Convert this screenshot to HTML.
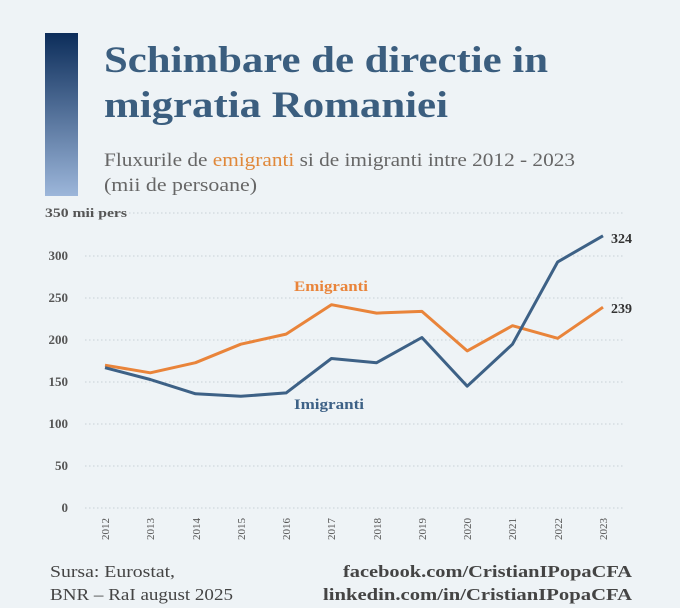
<!DOCTYPE html>
<html><head><meta charset="utf-8"><style>
body{margin:0;background:#eef3f6;}
svg{display:block}
</style></head><body>
<svg width="680" height="608" viewBox="0 0 680 608" xmlns="http://www.w3.org/2000/svg" font-family="Liberation Serif, serif">
<defs><linearGradient id="g" x1="0" y1="0" x2="0" y2="1"><stop offset="0" stop-color="#0c2d5a"/><stop offset="1" stop-color="#9cb6da"/></linearGradient></defs>
<rect width="680" height="608" fill="#eef3f6"/>
<rect x="45" y="33" width="33" height="163" fill="url(#g)"/>
<text x="104" y="72" font-size="37" font-weight="bold" fill="#3b5e7f" textLength="444" lengthAdjust="spacingAndGlyphs">Schimbare de directie in</text>
<text x="104" y="117" font-size="37" font-weight="bold" fill="#3b5e7f" textLength="344" lengthAdjust="spacingAndGlyphs">migratia Romaniei</text>
<text x="104" y="166" font-size="19" fill="#666" textLength="471" lengthAdjust="spacingAndGlyphs">Fluxurile de <tspan fill="#e0883a">emigranti</tspan> si de imigranti intre 2012 - 2023</text>
<text x="104" y="191" font-size="19" fill="#666" textLength="153" lengthAdjust="spacingAndGlyphs">(mii de persoane)</text>
<g stroke="#c8d0d6" stroke-dasharray="1.5,2.5" stroke-width="1">
<line x1="85" x2="625" y1="213" y2="213"/><line x1="85" x2="625" y1="256" y2="256"/><line x1="85" x2="625" y1="298" y2="298"/><line x1="85" x2="625" y1="340" y2="340"/><line x1="85" x2="625" y1="382" y2="382"/><line x1="85" x2="625" y1="424" y2="424"/><line x1="85" x2="625" y1="466" y2="466"/><line x1="85" x2="625" y1="508" y2="508"/>
</g>
<g font-size="13" fill="#555" text-anchor="end" font-weight="bold">
<text x="68" y="260">300</text><text x="68" y="302">250</text><text x="68" y="344">200</text><text x="68" y="386">150</text><text x="68" y="428">100</text><text x="68" y="470">50</text><text x="68" y="512">0</text>
</g>
<text x="45" y="217" font-size="13" fill="#555" font-weight="bold" textLength="82" lengthAdjust="spacingAndGlyphs">350 mii pers</text>
<g font-size="11" fill="#555">
<text transform="translate(109,540) rotate(-90)">2012</text><text transform="translate(154,540) rotate(-90)">2013</text><text transform="translate(200,540) rotate(-90)">2014</text><text transform="translate(245,540) rotate(-90)">2015</text><text transform="translate(290,540) rotate(-90)">2016</text><text transform="translate(335,540) rotate(-90)">2017</text><text transform="translate(381,540) rotate(-90)">2018</text><text transform="translate(426,540) rotate(-90)">2019</text><text transform="translate(471,540) rotate(-90)">2020</text><text transform="translate(516,540) rotate(-90)">2021</text><text transform="translate(562,540) rotate(-90)">2022</text><text transform="translate(607,540) rotate(-90)">2023</text>
</g>
<polyline fill="none" stroke="#e9843a" stroke-width="3" stroke-linejoin="round" points="105,365.2 150.3,372.8 195.5,362.7 240.8,344.2 286.1,334.1 331.4,304.7 376.6,313.1 421.9,311.4 467.2,350.9 512.5,325.7 557.7,338.3 603,307.2"/>
<polyline fill="none" stroke="#3d6186" stroke-width="3" stroke-linejoin="round" points="105,367.7 150.3,379.5 195.5,393.8 240.8,396.3 286.1,392.9 331.4,358.5 376.6,362.7 421.9,337.5 467.2,386.2 512.5,344.2 557.7,261.9 603,235.8"/>
<text x="294" y="291" font-size="15" font-weight="bold" fill="#e9843a" textLength="74" lengthAdjust="spacingAndGlyphs">Emigranti</text>
<text x="294" y="409" font-size="15" font-weight="bold" fill="#3d6186" textLength="70" lengthAdjust="spacingAndGlyphs">Imigranti</text>
<text x="611" y="243" font-size="14" font-weight="bold" fill="#333">324</text>
<text x="611" y="313" font-size="14" font-weight="bold" fill="#333">239</text>
<text x="50" y="577" font-size="17" fill="#444" textLength="125" lengthAdjust="spacingAndGlyphs">Sursa: Eurostat,</text>
<text x="50" y="600" font-size="17" fill="#444" textLength="183" lengthAdjust="spacingAndGlyphs">BNR – RaI august 2025</text>
<text x="343" y="577" font-size="17" font-weight="bold" fill="#444" textLength="289" lengthAdjust="spacingAndGlyphs">facebook.com/CristianIPopaCFA</text>
<text x="323" y="600" font-size="17" font-weight="bold" fill="#444" textLength="309" lengthAdjust="spacingAndGlyphs">linkedin.com/in/CristianIPopaCFA</text>
</svg>
</body></html>
